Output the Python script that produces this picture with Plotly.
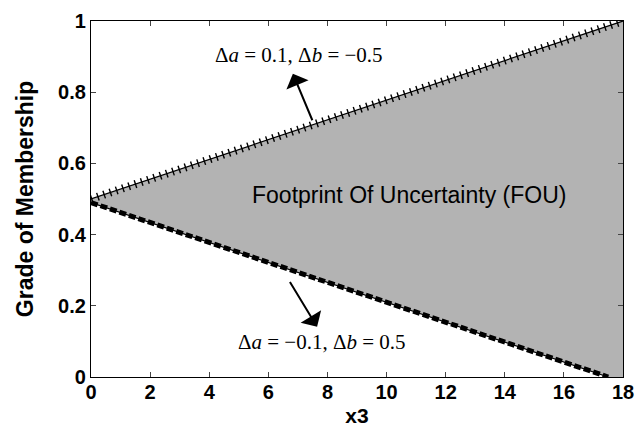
import plotly.graph_objects as go

# Data
x_upper = [0, 18]
y_upper = [0.5, 1.0]
x_lower = [0, 17.5]
y_lower = [0.49, 0.0]
x_ticks = [0, 2, 4, 6, 8, 10, 12, 14, 16, 18]
y_ticks = [0, 0.2, 0.4, 0.6, 0.8, 1]
y_tick_labels = ["0", "0.2", "0.4", "0.6", "0.8", "1"]

X_MAX = 18
Y_MIN = 0

# Polygon of the footprint: upper line, right edge, lower line back
poly_x = x_upper + [X_MAX] + x_lower[::-1]
poly_y = y_upper + [Y_MIN] + y_lower[::-1]

fig = go.Figure()
fig.add_trace(go.Scatter(x=poly_x, y=poly_y, fill="toself", mode="lines",
                         fillcolor="#b3b3b3", line=dict(width=0), hoverinfo="skip"))
# upper line: thin line + tick marks made by a short-dash overlay
fig.add_trace(go.Scatter(x=x_upper, y=y_upper, mode="lines",
                         line=dict(color="black", width=1.2)))
fig.add_trace(go.Scatter(x=x_upper, y=y_upper, mode="lines",
                         line=dict(color="black", width=8, dash="1.4px,5.2px")))
# lower line: thin line + thick dashes
fig.add_trace(go.Scatter(x=x_lower, y=y_lower, mode="lines",
                         line=dict(color="black", width=1.2)))
fig.add_trace(go.Scatter(x=x_lower, y=y_lower, mode="lines",
                         line=dict(color="black", width=5, dash="7px,3px")))

math_font = dict(family="Liberation Serif, DejaVu Serif, serif", size=21, color="black")

annotations = [
    dict(x=7.04, y=0.905, xref="x", yref="y", showarrow=False,
         text="Δ<i>a</i> = 0.1, Δ<i>b</i> = −0.5", font=math_font),
    dict(x=7.81, y=0.097, xref="x", yref="y", showarrow=False,
         text="Δ<i>a</i> = −0.1, Δ<i>b</i> = 0.5", font=math_font),
    dict(x=10.76, y=0.51, xref="x", yref="y", showarrow=False,
         text="Footprint Of Uncertainty (FOU)",
         font=dict(family="Liberation Sans, Arial, sans-serif", size=23, color="black")),
    dict(x=6.83, y=0.852, ax=7.51, ay=0.717, xref="x", yref="y", axref="x", ayref="y",
         showarrow=True, arrowhead=1, arrowsize=2, arrowwidth=2, arrowcolor="black", text=""),
    dict(x=7.65, y=0.141, ax=6.70, ay=0.271, xref="x", yref="y", axref="x", ayref="y",
         showarrow=True, arrowhead=1, arrowsize=2, arrowwidth=2, arrowcolor="black", text=""),
]

tick_font = dict(family="Liberation Sans, Arial, sans-serif", size=20, weight="bold", color="black")

fig.update_layout(
    width=644, height=429,
    margin=dict(l=91, r=21, t=21, b=52),
    paper_bgcolor="white", plot_bgcolor="white",
    showlegend=False,
    annotations=annotations,
    xaxis=dict(range=[0, 18], tickvals=x_ticks, ticks="inside", ticklen=5,
               showline=True, linecolor="black", linewidth=1.2, mirror="ticks",
               showgrid=False, zeroline=False, tickfont=tick_font, automargin=False,
               ticklabelstandoff=-3,
               title=dict(text="x3", standoff=6,
                          font=dict(family="Liberation Sans, Arial, sans-serif", size=21,
                                    weight="bold", color="black"))),
    yaxis=dict(range=[0, 1], tickvals=y_ticks, ticktext=y_tick_labels,
               ticks="inside", ticklen=5,
               showline=True, linecolor="black", linewidth=1.2, mirror="ticks",
               showgrid=False, zeroline=False, tickfont=tick_font, automargin=False,
               title=dict(text="Grade of Membership", standoff=18,
                          font=dict(family="Liberation Sans, Arial, sans-serif", size=23,
                                    weight="bold", color="black"))),
)

fig.write_html("out.html")
